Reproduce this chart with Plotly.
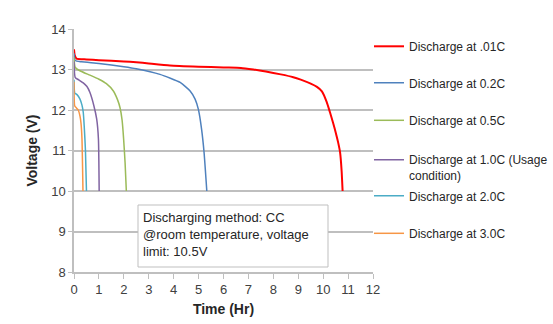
import plotly.graph_objects as go

# ---- data ----
series_names = [
    "Discharge at .01C",
    "Discharge at 0.2C",
    "Discharge at 0.5C",
    "Discharge at 1.0C (Usage<br>condition)",
    "Discharge at 2.0C",
    "Discharge at 3.0C",
]
colors = ["#FF0000", "#4F81BD", "#9BBB59", "#8064A2", "#4BACC6", "#F79646"]

t_001 = [0, 0.03, 0.1, 0.5, 1, 2, 2.5, 3, 3.85, 5, 6, 6.7, 7.2, 7.7, 8.3, 8.8, 9.1, 9.5, 9.75, 9.95, 10.14, 10.27, 10.4, 10.5, 10.6, 10.68, 10.74, 10.78]
v_001 = [13.5, 13.35, 13.27, 13.25, 13.23, 13.2, 13.18, 13.15, 13.1, 13.07, 13.05, 13.04, 13.0, 12.95, 12.88, 12.81, 12.75, 12.65, 12.57, 12.46, 12.2, 11.95, 11.68, 11.45, 11.2, 10.95, 10.5, 10.0]

t_02 = [0, 0.05, 0.3, 1, 2, 2.5, 3.45, 4.26, 4.66, 4.86, 4.99, 5.12, 5.22, 5.33]
v_02 = [13.4, 13.22, 13.19, 13.15, 13.07, 13.02, 12.88, 12.68, 12.47, 12.27, 12.02, 11.53, 10.95, 10.0]

t_05 = [0, 0.05, 0.3, 0.64, 1.0, 1.3, 1.58, 1.75, 1.85, 1.93, 1.99, 2.05, 2.1]
v_05 = [13.3, 13.05, 12.95, 12.86, 12.76, 12.65, 12.47, 12.25, 12.05, 11.75, 11.3, 10.7, 10.0]

t_10 = [0, 0.05, 0.2, 0.37, 0.52, 0.64, 0.8, 0.91, 0.98, 1.01]
v_10 = [13.2, 12.8, 12.74, 12.67, 12.58, 12.43, 12.1, 11.78, 11.29, 10.0]

t_20 = [0, 0.03, 0.12, 0.24, 0.32, 0.37, 0.41, 0.46, 0.5]
v_20 = [12.75, 12.42, 12.38, 12.27, 12.12, 11.95, 11.6, 11.0, 10.0]

t_30 = [0, 0.03, 0.1, 0.17, 0.24, 0.28, 0.32, 0.36]
v_30 = [12.7, 12.1, 12.05, 12.0, 11.85, 11.68, 11.29, 10.0]

x_ticks = list(range(0, 13))
y_ticks = list(range(8, 15))
note_text = "Discharging method: CC<br>@room temperature, voltage<br>limit: 10.5V"

times = [t_001, t_02, t_05, t_10, t_20, t_30]
volts = [v_001, v_02, v_05, v_10, v_20, v_30]

W, H = 553, 324
# legend entry vertical centres (pixels from top)
legend_py = [46.5, 83.0, 120.5, 168.0, 196.0, 233.5]

FONT = "Liberation Sans, Arial, sans-serif"
TXT = "#404040"
GRID = "#BFBFBF"

fig = go.Figure()
for i, (name, c, t, v) in enumerate(zip(series_names, colors, times, volts)):
    fig.add_trace(go.Scatter(
        x=t, y=v, mode="lines", name=name,
        line=dict(color=c, width=2 if i == 0 else 1.5, shape="spline", smoothing=0.5),
        legend="legend" if i == 0 else f"legend{i+1}",
    ))

layout_legends = {}
for i, py in enumerate(legend_py):
    key = "legend" if i == 0 else f"legend{i+1}"
    layout_legends[key] = dict(
        xref="container", yref="container",
        x=369 / W, xanchor="left", y=1 - py / H, yanchor="middle",
        font=dict(family=FONT, size=12, color="#262626"),
        bgcolor="rgba(0,0,0,0)", borderwidth=0,
        itemwidth=30, valign="top",
    )

fig.update_layout(
    width=W, height=H,
    margin=dict(l=74, r=180, t=29, b=52, autoexpand=False),
    paper_bgcolor="white", plot_bgcolor="white",
    font=dict(family=FONT, size=12, color=TXT),
    showlegend=True,
    **layout_legends,
)

fig.update_xaxes(
    range=[0, 12], tickvals=x_ticks, ticktext=[str(x) for x in x_ticks],
    showgrid=False, zeroline=False,
    showline=True, linecolor=GRID, linewidth=1.5,
    ticks="outside", ticklen=5, tickcolor=GRID, tickwidth=1,
    tickfont=dict(family=FONT, size=13, color=TXT),
    title=dict(text="<b>Time (Hr)</b>", font=dict(family=FONT, size=14, color="#262626"), standoff=8),
)
fig.update_yaxes(
    range=[8, 14], tickvals=y_ticks, ticktext=[str(y) for y in y_ticks],
    showgrid=True, gridcolor=GRID, gridwidth=1.5, zeroline=False,
    showline=True, linecolor=GRID, linewidth=1.5,
    ticks="outside", ticklen=4, tickcolor=GRID, tickwidth=1,
    tickfont=dict(family=FONT, size=13, color=TXT),
    title=dict(text="<b>Voltage (V)</b>", font=dict(family=FONT, size=14, color="#262626"), standoff=10),
)

# text box
fig.add_shape(type="rect", xref="paper", yref="paper",
              x0=(138 - 74) / 299, x1=(328 - 74) / 299,
              y0=(272 - 267) / 243, y1=(272 - 205) / 243,
              line=dict(color=GRID, width=1), fillcolor="white", layer="above")
fig.add_annotation(xref="paper", yref="paper", x=(141 - 74) / 299, y=(272 - 208) / 243,
                   xanchor="left", yanchor="top", align="left", showarrow=False,
                   text=note_text, font=dict(family=FONT, size=13, color="#262626"))

fig.write_html("out.html")
